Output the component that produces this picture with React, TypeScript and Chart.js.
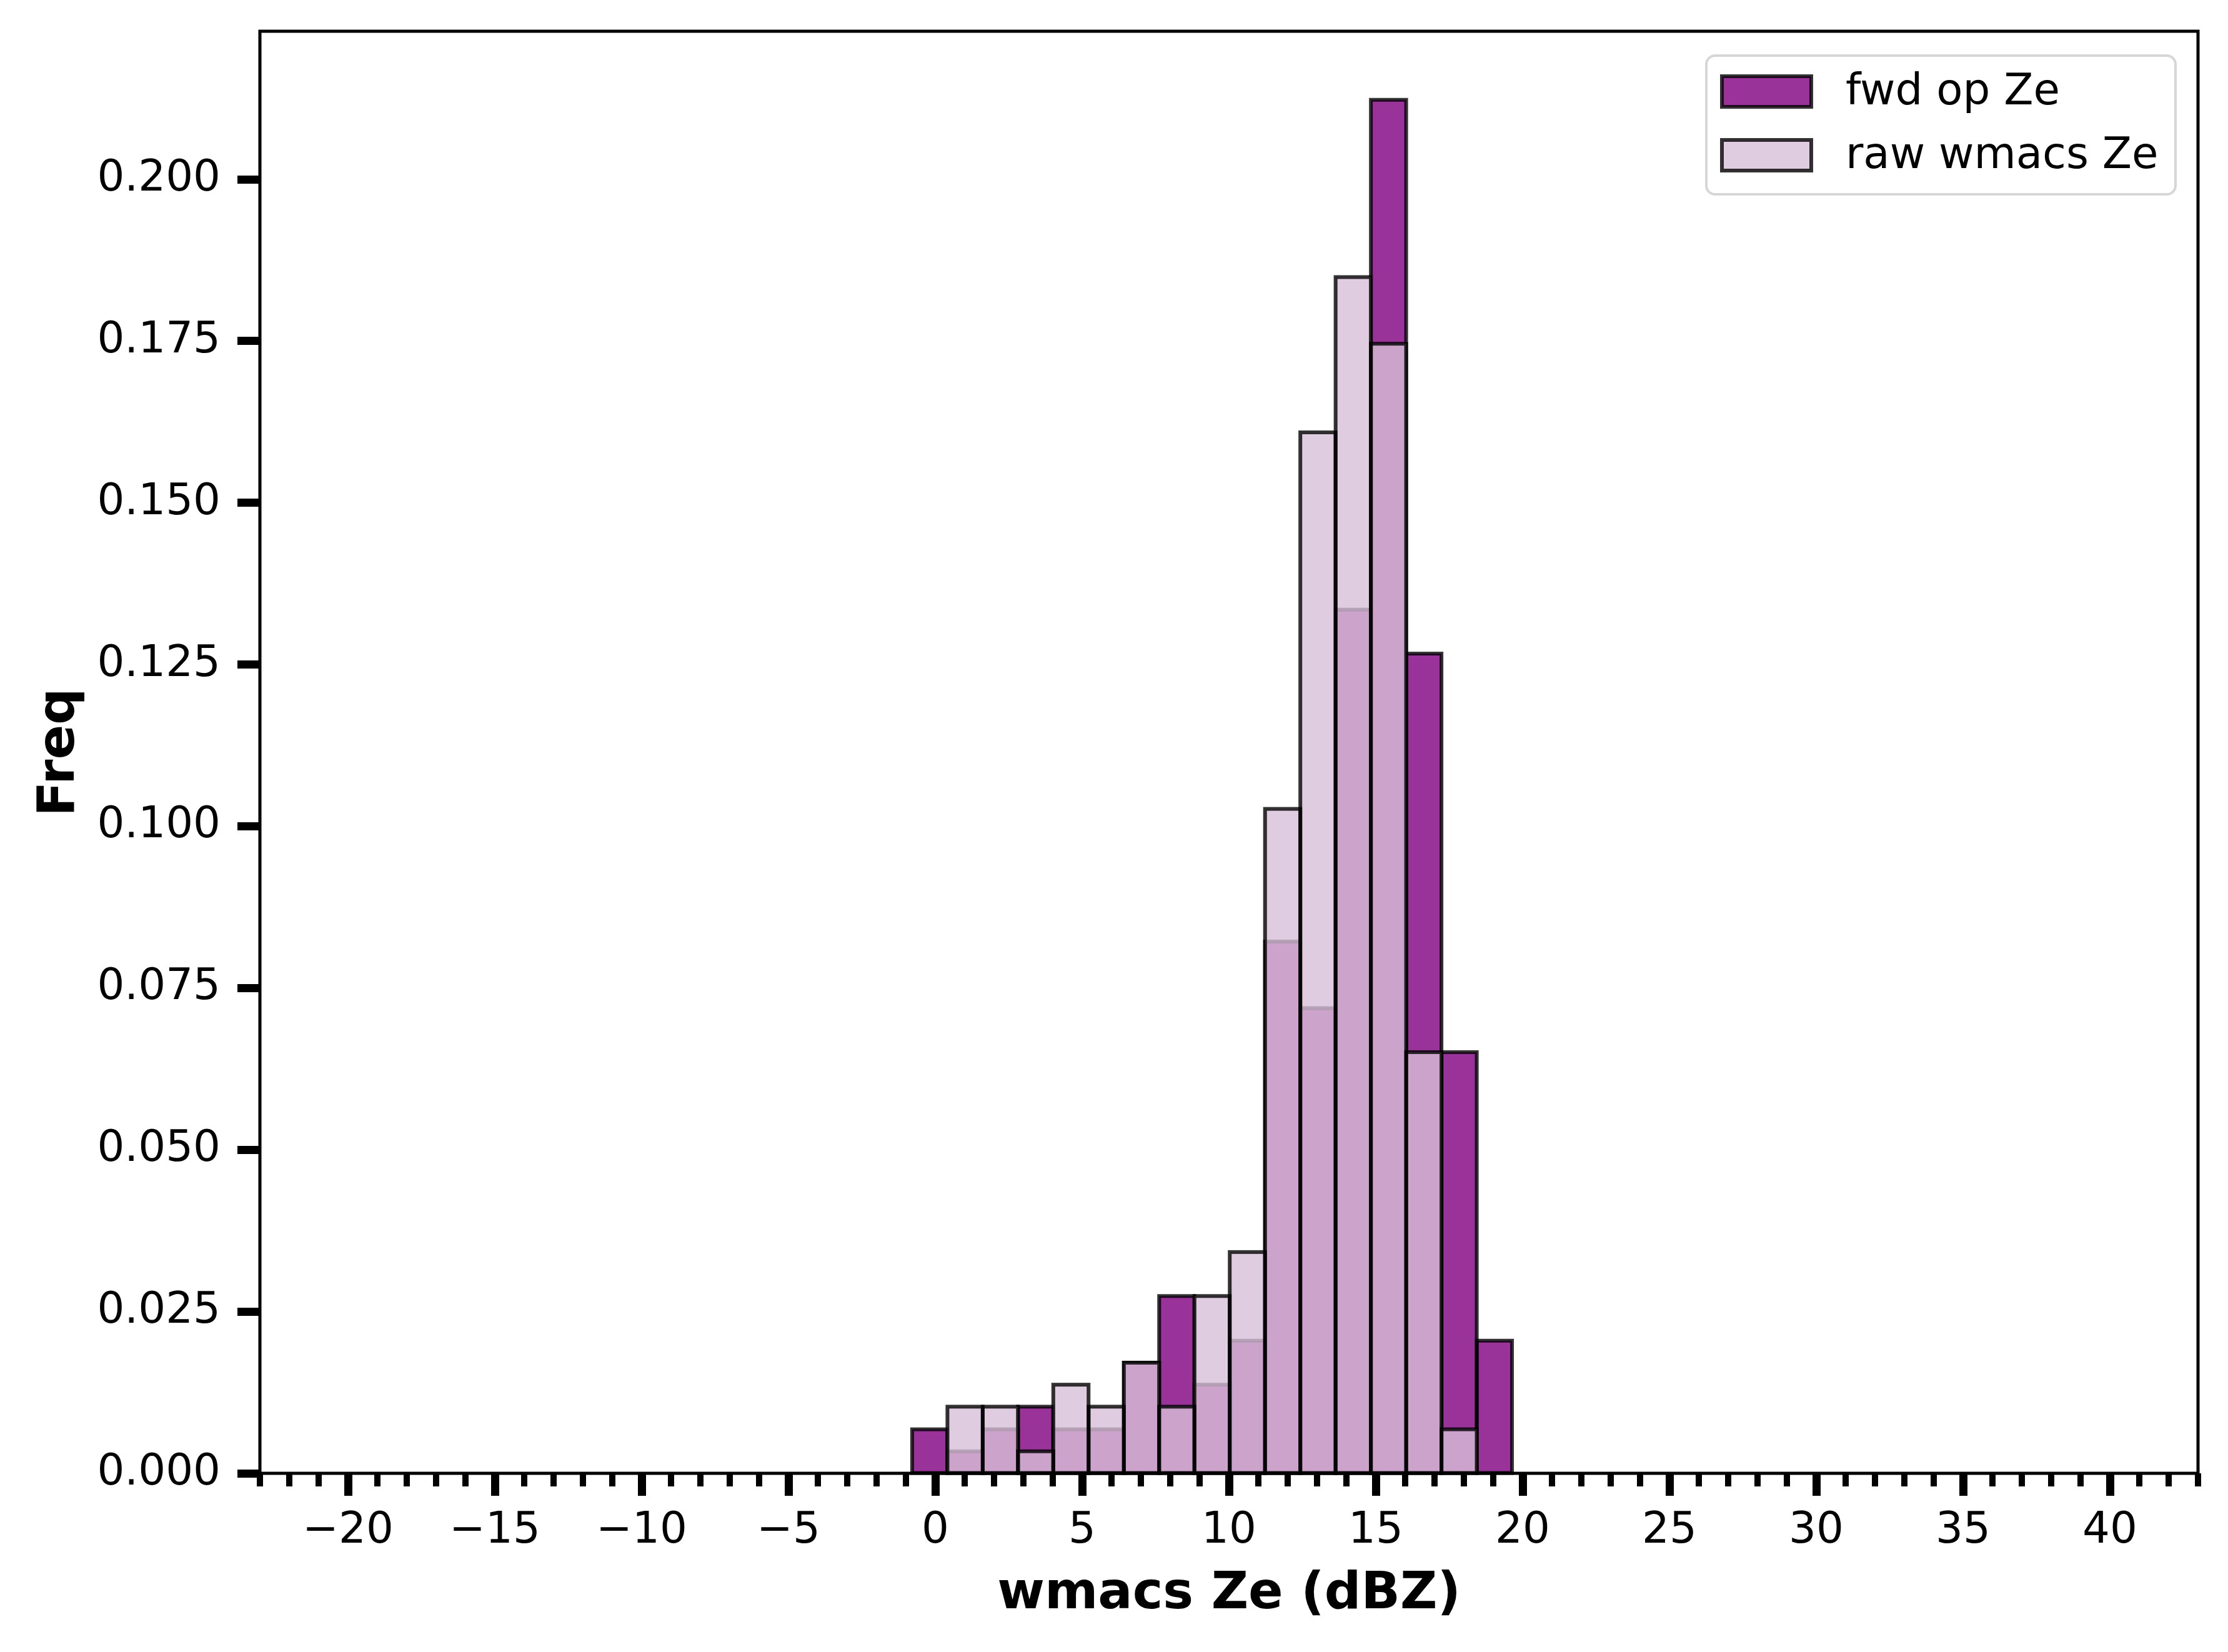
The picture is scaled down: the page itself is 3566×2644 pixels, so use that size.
import { useEffect, useRef } from "react";
import { Chart, registerables } from "chart.js";
Chart.register(...registerables);

// histogram bins (dBZ): 17 bins of ~1.2 dBZ, centres listed
const binCenters = [-0.189, 1.013, 2.215, 3.416, 4.618, 5.82, 7.022, 8.223, 9.425, 10.627, 11.829, 13.03, 14.232, 15.434, 16.636, 17.838, 19.039];
const fwdOpZe = [0.0068, 0.0034, 0.0068, 0.0103, 0.0068, 0.0068, 0.0171, 0.0274, 0.0137, 0.0205, 0.0822, 0.0719, 0.1335, 0.2123, 0.1267, 0.0651, 0.0205];
const rawWmacsZe = [0, 0.0103, 0.0103, 0.0034, 0.0137, 0.0103, 0.0171, 0.0103, 0.0274, 0.0342, 0.1027, 0.1609, 0.1849, 0.1746, 0.0651, 0.0068, 0];
const seriesLabels = ["fwd op Ze", "raw wmacs Ze"];
const xLimits = [-23, 43];
const yLimits = [0, 0.2229];

const FONT = "DejaVu Sans";
const FWD_FILL = "rgba(128,0,128,0.8)";
const RAW_FILL = "rgba(216,191,216,0.8)";
const EDGE = "rgba(0,0,0,0.8)";

// matplotlib-like edges on every bar, drawn right after its dataset
const histEdges = {
  id: "histEdges",
  afterDatasetDraw(chart: any, args: any) {
    const ctx = chart.ctx;
    ctx.save();
    ctx.strokeStyle = EDGE;
    ctx.lineWidth = 6;
    args.meta.data.forEach((bar: any) => {
      const { x, y, base, width } = bar.getProps(["x", "y", "base", "width"], true);
      if (Math.abs(base - y) < 0.5) return;
      ctx.strokeRect(x - width / 2, y, width, base - y);
    });
    ctx.restore();
  },
};

// frame, minor x ticks and the boxed legend
const decorations = {
  id: "decorations",
  afterDraw(chart: any) {
    const { ctx, chartArea } = chart;
    const { left, right, top, bottom } = chartArea;
    const xs = chart.scales.x;
    ctx.save();

    ctx.fillStyle = "#000";
    for (let v = xLimits[0]; v <= xLimits[1]; v++) {
      if (v % 5 === 0) continue;
      const px = xs.getPixelForValue(v);
      ctx.fillRect(px - 5, bottom, 10, 21);
    }

    ctx.strokeStyle = "#000";
    ctx.lineWidth = 5;
    ctx.strokeRect(left, top, right - left, bottom - top);

    // legend
    const lx = 2731, ly = 89, lw = 751, lh = 222;
    ctx.beginPath();
    ctx.roundRect(lx, ly, lw, lh, 14);
    ctx.fillStyle = "rgba(255,255,255,0.8)";
    ctx.fill();
    ctx.lineWidth = 4;
    ctx.strokeStyle = "rgba(204,204,204,0.8)";
    ctx.stroke();

    const fills = [FWD_FILL, RAW_FILL];
    const rows = [146, 248];
    ctx.font = `69px "${FONT}"`;
    ctx.textBaseline = "middle";
    ctx.textAlign = "left";
    seriesLabels.forEach((label, i) => {
      const cy = rows[i];
      ctx.fillStyle = fills[i];
      ctx.fillRect(2756, cy - 24, 143, 49);
      ctx.strokeStyle = EDGE;
      ctx.lineWidth = 6;
      ctx.strokeRect(2756, cy - 24, 143, 49);
      ctx.fillStyle = "#000";
      ctx.fillText(label, 2954, cy + 3);
    });
    ctx.restore();
  },
};

export default function App() {
  const chartRef = useRef<HTMLCanvasElement>(null);
  const chartInstance = useRef<Chart | null>(null);

  useEffect(() => {
    document.body.style.margin = "0";
    document.documentElement.style.overflow = "hidden";
    if (!chartRef.current) return;
    if (chartInstance.current) chartInstance.current.destroy();

    chartInstance.current = new Chart(chartRef.current, {
      type: "bar",
      data: {
        datasets: [
          {
            label: seriesLabels[0],
            data: binCenters.map((x, i) => ({ x, y: fwdOpZe[i] })),
            backgroundColor: FWD_FILL,
            borderWidth: 0,
            inflateAmount: 0,
            order: 2,
          },
          {
            label: seriesLabels[1],
            data: binCenters.map((x, i) => ({ x, y: rawWmacsZe[i] })),
            backgroundColor: RAW_FILL,
            borderWidth: 0,
            inflateAmount: 0,
            order: 1,
          },
        ],
      } as any,
      options: {
        animation: false,
        responsive: true,
        maintainAspectRatio: false,
        layout: { padding: { top: 50, right: 48, left: 0, bottom: 0 } },
        datasets: { bar: { grouped: false, barPercentage: 1, categoryPercentage: 1 } },
        plugins: { legend: { display: false }, tooltip: { enabled: false } },
        scales: {
          x: {
            type: "linear",
            min: xLimits[0],
            max: xLimits[1],
            offset: false,
            afterFit: (s: any) => { s.height = 286; s.paddingLeft = 0; s.paddingRight = 0; },
            border: { display: false },
            grid: { display: true, offset: false, drawOnChartArea: false, drawTicks: true, tickLength: 36, tickWidth: 13, tickColor: "#000" },
            ticks: {
              stepSize: 5,
              includeBounds: false,
              autoSkip: false,
              maxRotation: 0,
              padding: 16,
              color: "#000",
              font: { family: FONT, size: 69 },
              callback: (v: any) => (v < 0 ? "\u2212" + Math.abs(v) : String(v)),
            },
            title: {
              display: true,
              text: "wmacs Ze (dBZ)",
              color: "#000",
              font: { family: FONT, size: 82, weight: "bold" },
              padding: { top: 0, bottom: 42 },
            },
          },
          y: {
            min: yLimits[0],
            max: yLimits[1],
            afterFit: (s: any) => { s.width = 416; s.paddingTop = 0; s.paddingBottom = 0; },
            border: { display: false },
            grid: { display: true, drawOnChartArea: false, drawTicks: true, tickLength: 36, tickWidth: 13, tickColor: "#000" },
            ticks: {
              stepSize: 0.025,
              includeBounds: false,
              padding: 27,
              color: "#000",
              font: { family: FONT, size: 69 },
              callback: (v: any) => Number(v).toFixed(3),
            },
            title: {
              display: true,
              text: "Freq",
              color: "#000",
              font: { family: FONT, size: 82, weight: "bold" },
              padding: { top: 48, bottom: 0 },
            },
          },
        },
      } as any,
      plugins: [histEdges, decorations],
    });

    return () => { chartInstance.current?.destroy(); chartInstance.current = null; };
  }, []);

  return (
    <div style={{ width: "3566px", height: "2644px", position: "relative", background: "#fff" }}>
      <canvas ref={chartRef}></canvas>
    </div>
  );
}
